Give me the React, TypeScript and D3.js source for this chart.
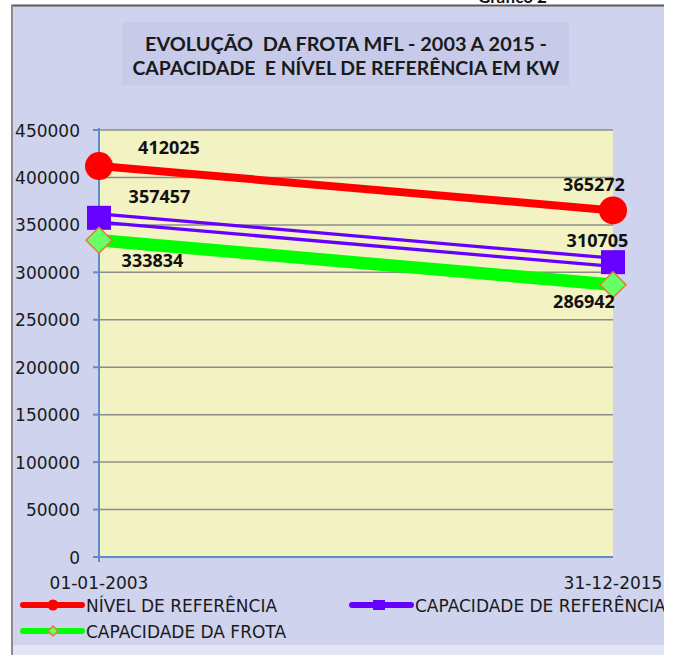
import React, { useEffect, useRef } from 'react';
import * as d3 from 'd3';

const categories = ['01-01-2003', '31-12-2015'];
const nivelReferencia = [412025, 365272];
const capacidadeReferencia = [357457, 310705];
const capacidadeFrota = [333834, 286942];
const seriesNames = ['NÍVEL DE REFERÊNCIA', 'CAPACIDADE DE REFERÊNCIA', 'CAPACIDADE DA FROTA'];
const titleLines = ['EVOLUÇÃO  DA FROTA MFL - 2003 A 2015 -', 'CAPACIDADE  E NÍVEL DE REFERÊNCIA EM KW'];
const yMax = 450000;

const RED = '#ff0000';
const PURPLE = '#6600ff';
const GREEN = '#00ff00';

const App = () => {
  const svgRef = useRef<SVGSVGElement>(null);

  useEffect(() => {
    if (!svgRef.current) return;
    const width = 680;
    const height = 655;
    const plot = { left: 99, right: 613, top: 130, bottom: 557 };

    const svg = d3.select(svgRef.current);
    svg.selectAll('*').remove();
    svg.attr('width', width).attr('height', height);

    const x = d3.scalePoint<string>().domain(categories).range([plot.left, plot.right]);
    const y = d3.scaleLinear().domain([0, yMax]).range([plot.bottom, plot.top]);

    svg.append('rect').attr('width', width).attr('height', height).attr('fill', '#ffffff');

    // cut-off caption above the chart
    svg.append('text')
      .attr('x', 478)
      .attr('y', 3)
      .text('Gráfico 2')
      .style('font-family', 'Lato, sans-serif')
      .style('font-weight', 'bold')
      .style('font-size', '17px')
      .style('fill', '#111');

    const defs = svg.append('defs');
    defs.append('clipPath').attr('id', 'chart-clip')
      .append('rect').attr('x', 12).attr('y', 5).attr('width', 652).attr('height', 650);

    const chart = svg.append('g').attr('clip-path', 'url(#chart-clip)');

    // chart area background
    chart.append('rect').attr('x', 12).attr('y', 5).attr('width', 652).attr('height', 650).attr('fill', '#cfd3ee');
    chart.append('rect').attr('x', 12).attr('y', 645).attr('width', 652).attr('height', 10).attr('fill', '#e3e5f4');
    svg.append('line').attr('x1', 11).attr('x2', 664).attr('y1', 5.5).attr('y2', 5.5)
      .attr('stroke', '#5a5a5a').attr('stroke-width', 2);
    svg.append('line').attr('x1', 12).attr('x2', 12).attr('y1', 5).attr('y2', 655)
      .attr('stroke', '#8c8c8c').attr('stroke-width', 2);

    // title
    chart.append('rect').attr('x', 122).attr('y', 22).attr('width', 447).attr('height', 63).attr('fill', '#c7cbe9');
    const titleLengths = [402, 427];
    titleLines.forEach((line, i) => {
      chart.append('text')
        .attr('x', 346)
        .attr('y', 51 + i * 24)
        .attr('text-anchor', 'middle')
        .attr('textLength', titleLengths[i])
        .attr('lengthAdjust', 'spacingAndGlyphs')
        .text(line)
        .style('white-space', 'pre')
        .style('font-family', 'Lato, sans-serif')
        .style('font-weight', 'bold')
        .style('font-size', '19px')
        .style('fill', '#1a1a1a');
    });

    // plot area
    chart.append('rect')
      .attr('x', plot.left).attr('y', plot.top)
      .attr('width', plot.right - plot.left).attr('height', plot.bottom - plot.top)
      .attr('fill', '#f2f2c2');

    const ticks = y.ticks(9);
    chart.selectAll('.grid')
      .data(ticks.filter(t => t > 0))
      .enter()
      .append('line')
      .attr('x1', plot.left).attr('x2', plot.right)
      .attr('y1', d => y(d)).attr('y2', d => y(d))
      .attr('stroke', '#8c8c8c').attr('stroke-width', 1.5);

    const axisColor = '#5b8ec9';
    chart.append('line').attr('x1', plot.left).attr('x2', plot.left).attr('y1', plot.top - 2).attr('y2', plot.bottom + 5)
      .attr('stroke', axisColor).attr('stroke-width', 2);
    chart.append('line').attr('x1', plot.left - 6).attr('x2', plot.right).attr('y1', plot.bottom).attr('y2', plot.bottom)
      .attr('stroke', axisColor).attr('stroke-width', 2);
    chart.selectAll('.ytick')
      .data(ticks)
      .enter()
      .append('line')
      .attr('x1', plot.left - 6).attr('x2', plot.left)
      .attr('y1', d => y(d)).attr('y2', d => y(d))
      .attr('stroke', axisColor).attr('stroke-width', 2);

    chart.selectAll('.ylabel')
      .data(ticks)
      .enter()
      .append('text')
      .attr('x', 80)
      .attr('y', d => y(d) + 6.5)
      .attr('text-anchor', 'end')
      .text(d => String(d))
      .style('font-family', '"DejaVu Sans", sans-serif')
      .style('font-size', '17px')
      .style('fill', '#1a1a1a');

    chart.selectAll('.xlabel')
      .data(categories)
      .enter()
      .append('text')
      .attr('x', d => x(d) as number)
      .attr('y', 589)
      .attr('text-anchor', 'middle')
      .text(d => d)
      .style('font-family', '"DejaVu Sans", sans-serif')
      .style('font-size', '17px')
      .style('fill', '#1a1a1a');

    const lineFor = (vals: number[], off = 0) =>
      d3.line<number>()
        .x((_, i) => x(categories[i]) as number)
        .y(d => y(d) + off)(vals);

    // NÍVEL DE REFERÊNCIA
    chart.append('path').attr('d', lineFor(nivelReferencia)).attr('fill', 'none')
      .attr('stroke', RED).attr('stroke-width', 8);
    chart.selectAll('.m-red')
      .data(nivelReferencia)
      .enter()
      .append('circle')
      .attr('cx', (_, i) => x(categories[i]) as number)
      .attr('cy', d => y(d))
      .attr('r', 14)
      .attr('fill', RED);

    // CAPACIDADE DE REFERÊNCIA (double line)
    [-4, 4.3].forEach(off => {
      chart.append('path').attr('d', lineFor(capacidadeReferencia, off)).attr('fill', 'none')
        .attr('stroke', PURPLE).attr('stroke-width', 3.3);
    });
    chart.selectAll('.m-purple')
      .data(capacidadeReferencia)
      .enter()
      .append('rect')
      .attr('x', (_, i) => (x(categories[i]) as number) - 12)
      .attr('y', d => y(d) - 12)
      .attr('width', 24)
      .attr('height', 24)
      .attr('fill', PURPLE);

    // CAPACIDADE DA FROTA
    chart.append('path').attr('d', lineFor(capacidadeFrota)).attr('fill', 'none')
      .attr('stroke', GREEN).attr('stroke-width', 12.5);
    const diamond = d3.symbol().type(d3.symbolSquare).size(338);
    chart.selectAll('.m-green')
      .data(capacidadeFrota)
      .enter()
      .append('path')
      .attr('d', diamond() as string)
      .attr('transform', (d, i) => `translate(${x(categories[i])},${y(d)}) rotate(45)`)
      .attr('fill', '#66ff66')
      .attr('stroke', '#e07c3a')
      .attr('stroke-width', 1.5);

    // data labels
    const labelSeries = [
      { vals: nivelReferencia, offsets: [[70, -12], [-19, -19.7]] },
      { vals: capacidadeReferencia, offsets: [[60.5, -14.5], [-15.5, -15.5]] },
      { vals: capacidadeFrota, offsets: [[53.5, 27], [-29, 23.6]] },
    ];
    labelSeries.forEach(s => {
      s.vals.forEach((v, i) => {
        chart.append('text')
          .attr('x', (x(categories[i]) as number) + s.offsets[i][0])
          .attr('y', y(v) + s.offsets[i][1])
          .attr('text-anchor', 'middle')
          .text(String(v))
          .style('font-family', '"Open Sans", sans-serif')
          .style('font-weight', 'bold')
          .style('font-size', '18px')
          .style('fill', '#111');
      });
    });

    // legend
    const legendFont = (t: d3.Selection<SVGTextElement, unknown, null, undefined>) =>
      t.style('font-family', '"DejaVu Sans", sans-serif').style('font-size', '17px').style('fill', '#1a1a1a');

    const legendItems = [
      { name: seriesNames[0], color: RED, x0: 23, y0: 605 },
      { name: seriesNames[1], color: PURPLE, x0: 352, y0: 605 },
      { name: seriesNames[2], color: GREEN, x0: 23, y0: 631 },
    ];
    legendItems.forEach((item, i) => {
      const g = chart.append('g').attr('transform', `translate(${item.x0},${item.y0})`);
      g.append('line').attr('x1', 0).attr('x2', 59).attr('y1', 0).attr('y2', 0)
        .attr('stroke', item.color).attr('stroke-width', 6).attr('stroke-linecap', 'round');
      if (i === 0) {
        g.append('circle').attr('cx', 30).attr('cy', 0).attr('r', 5.5).attr('fill', RED);
      } else if (i === 1) {
        g.append('rect').attr('x', 21).attr('y', -5).attr('width', 12).attr('height', 10).attr('fill', PURPLE);
      } else {
        g.append('path')
          .attr('d', d3.symbol().type(d3.symbolSquare).size(50)() as string)
          .attr('transform', 'translate(30,0) rotate(45)')
          .attr('fill', '#66ff66')
          .attr('stroke', '#e07c3a')
          .attr('stroke-width', 1.5);
      }
      g.append('text').attr('x', 63).attr('y', 6.5).text(item.name).call(legendFont);
    });
  }, []);

  return (
    <svg
      ref={svgRef}
      style={{ position: 'absolute', left: 0, top: 0, display: 'block' }}
    ></svg>
  );
};

export default App;
